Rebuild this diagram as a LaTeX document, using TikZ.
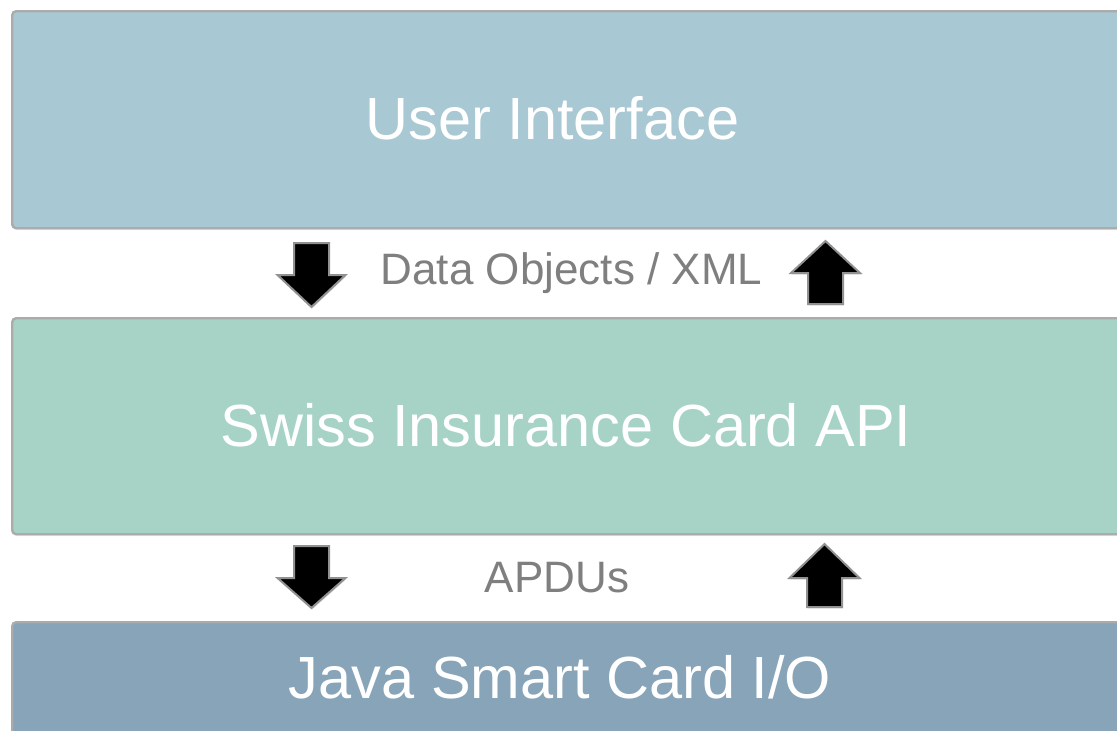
\documentclass[tikz,border=0pt]{standalone}
\usepackage{fontspec}
\setmainfont{Liberation Sans}
\usetikzlibrary{shadows}
\definecolor{uifill}{HTML}{A8C8D3}
\definecolor{apifill}{HTML}{A7D3C7}
\definecolor{iofill}{HTML}{88A4B9}
\definecolor{edgegray}{HTML}{ABABAB}
\definecolor{labelgray}{HTML}{7F7F7F}
\tikzset{
  layer/.style={draw=edgegray, line width=2.4pt, rounded corners=4pt,
    anchor=north west, inner sep=0pt,
    drop shadow={shadow xshift=0.8pt, shadow yshift=-2pt, opacity=0.18}},
  layertext/.style={text=white, font=\fontsize{59.5}{70}\selectfont, inner sep=0pt},
  flowtext/.style={text=labelgray, font=\fontsize{44}{52}\selectfont, inner sep=0pt},
  blockarrow/.style={fill=black, draw=edgegray!85!black, line width=2pt, line join=miter,
    drop shadow={shadow xshift=0.8pt, shadow yshift=-1.5pt, opacity=0.2}}
}
\begin{document}
\begin{tikzpicture}[x=1pt, y=-1pt]
  \useasboundingbox (0,0) rectangle (1117,731);
  \clip (0,0) rectangle (1117,731);

  % the three layers
  \node[layer, fill=uifill, minimum width=1140pt, minimum height=217pt] (ui) at (11,10) {};
  \node[layer, fill=apifill, minimum width=1140pt, minimum height=216pt] (api) at (11,317) {};
  \node[layer, fill=iofill, minimum width=1140pt, minimum height=160pt] (io) at (11,621) {};

  \node[layertext] (uitext) at (552.5,118) {User Interface};
  \node[layertext] (apitext) at (566,425) {Swiss Insurance Card API};
  \node[layertext] (iotext) at (560,677) {Java Smart Card I/O};

  % labels between the layers
  \node[flowtext] (xml) at (571.5,273) {Data Objects / XML};
  \node[flowtext] (apdu) at (557,578) {APDUs};

  % block arrows: down (request) and up (response)
  \begin{scope}[shift={(311.5,243)}]
    \path[blockarrow] (-17.5,0) -- (17.5,0) -- (17.5,32) -- (34,32) -- (0,64) -- (-34,32) -- (-17.5,32) -- cycle;
  \end{scope}
  \begin{scope}[shift={(825.5,241)}]
    \path[blockarrow] (0,0) -- (34.5,32) -- (17.5,32) -- (17.5,63) -- (-17.5,63) -- (-17.5,32) -- (-34.5,32) -- cycle;
  \end{scope}
  \begin{scope}[shift={(311.5,546)}]
    \path[blockarrow] (-17.5,0) -- (17.5,0) -- (17.5,32) -- (34,32) -- (0,62) -- (-34,32) -- (-17.5,32) -- cycle;
  \end{scope}
  \begin{scope}[shift={(824.5,544)}]
    \path[blockarrow] (0,0) -- (35,34) -- (17.5,34) -- (17.5,63) -- (-17.5,63) -- (-17.5,34) -- (-35,34) -- cycle;
  \end{scope}
\end{tikzpicture}
\end{document}
